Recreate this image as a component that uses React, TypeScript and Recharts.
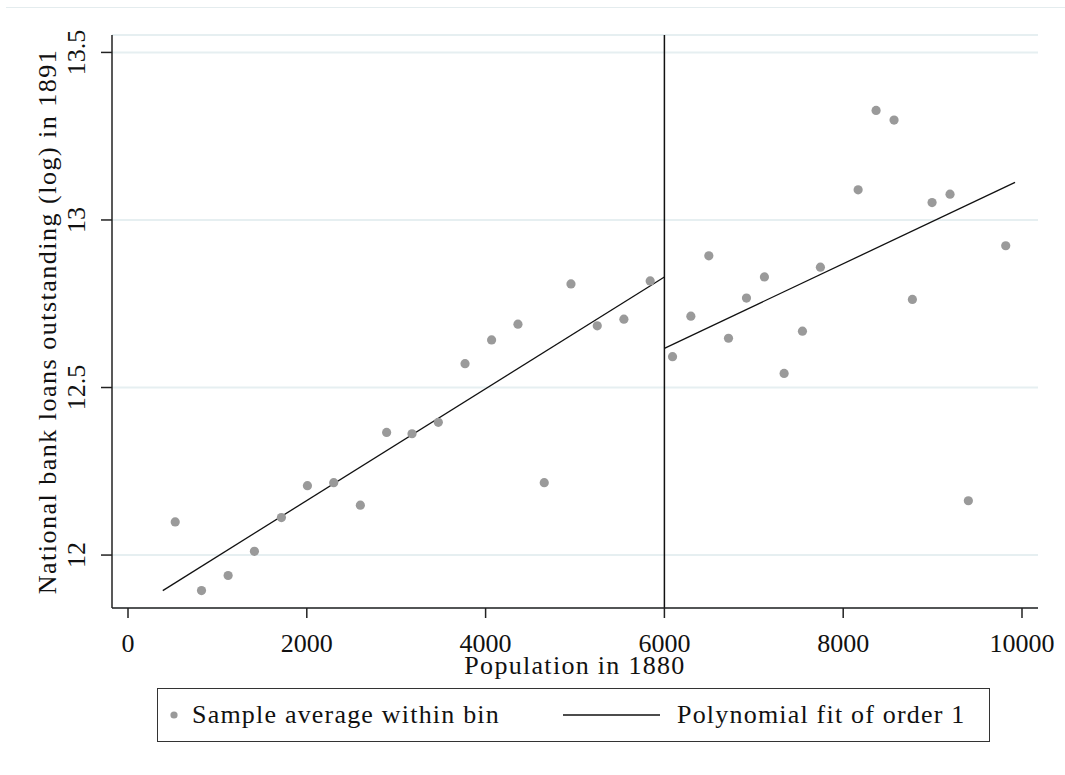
import React from 'react';
import {
  ComposedChart,
  Scatter,
  Line,
  XAxis,
  YAxis,
  CartesianGrid,
  ReferenceLine,
  Legend,
} from 'recharts';

// binned sample averages, left of the 6000 cutoff
const leftBinX = [528, 822, 1120, 1414, 1716, 2007, 2301, 2599, 2893, 3177, 3471, 3770, 4067, 4362, 4656, 4955, 5249, 5547, 5841];
const leftBinY = [12.099, 11.894, 11.939, 12.011, 12.112, 12.207, 12.216, 12.149, 12.366, 12.362, 12.396, 12.571, 12.642, 12.689, 12.216, 12.809, 12.684, 12.704, 12.818];

// binned sample averages, right of the cutoff
const rightBinX = [6091, 6296, 6497, 6717, 6918, 7119, 7339, 7544, 7745, 8167, 8368, 8569, 8774, 8994, 9195, 9400, 9818];
const rightBinY = [12.592, 12.713, 12.893, 12.647, 12.767, 12.83, 12.542, 12.668, 12.859, 13.09, 13.327, 13.298, 12.763, 13.052, 13.077, 12.162, 12.923];

// linear fits (start / end)
const leftFitX = [389, 6000];
const leftFitY = [11.894, 12.83];
const rightFitX = [6000, 9922];
const rightFitY = [12.617, 13.112];

const xTicks = [0, 2000, 4000, 6000, 8000, 10000];
const yTicks = [12, 12.5, 13, 13.5];
const cutoff = 6000;

const FONT = '"Liberation Serif", serif';
const DOT = '#9a9a9a';
const INK = '#111';

const zip = (xs: number[], ys: number[]) => xs.map((x, i) => ({ x, y: ys[i] }));

const YTick = ({ x, y, payload }: any) => (
  <text
    x={x - 24}
    y={y}
    transform={`rotate(-90, ${x - 24}, ${y})`}
    textAnchor="middle"
    dominantBaseline="central"
    fontFamily={FONT}
    fontSize={26}
    fill={INK}
  >
    {payload.value}
  </text>
);

const BinDot = ({ cx, cy }: any) => <circle cx={cx} cy={cy} r={4.6} fill={DOT} />;

const legendText: React.CSSProperties = {
  position: 'absolute',
  top: 0,
  lineHeight: '52px',
  fontFamily: FONT,
  fontSize: 26,
  letterSpacing: 1.2,
  color: INK,
  whiteSpace: 'nowrap',
};

const LegendBox = () => (
  <div
    style={{
      position: 'relative',
      width: 833,
      height: 54,
      boxSizing: 'border-box',
      border: '1.5px solid #333',
    }}
  >
    <svg width={833} height={52} style={{ position: 'absolute', left: -1.5, top: 0 }}>
      <circle cx={17} cy={26} r={3.6} fill={DOT} />
      <line x1={406} x2={503} y1={26} y2={26} stroke={INK} strokeWidth={1.5} />
    </svg>
    <span style={{ ...legendText, left: 34 }}>Sample average within bin</span>
    <span style={{ ...legendText, left: 519 }}>Polynomial fit of order 1</span>
  </div>
);

export default function App() {
  return (
    <div style={{ position: 'relative', width: 1065, height: 775, background: '#fff' }}>
      <style>{'body{margin:0}'}</style>
      <div style={{ position: 'absolute', left: 6, right: 0, top: 7, height: 0, borderTop: '1.5px solid #e4ecee' }} />
      <ComposedChart
        width={1065}
        height={775}
        margin={{ top: 35, right: 27, left: 12, bottom: 43 }}
      >
        <CartesianGrid horizontal vertical={false} stroke="#e6eff1" strokeWidth={2} />
        <XAxis
          type="number"
          dataKey="x"
          domain={[-179, 10179]}
          ticks={xTicks}
          allowDataOverflow
          height={70}
          tickSize={10}
          tickMargin={16}
          stroke="#222"
          strokeWidth={1.5}
          tick={{ fontFamily: FONT, fontSize: 26, fill: INK }}
          label={{
            value: 'Population in 1880',
            position: 'insideBottom',
            offset: 4,
            style: { fontFamily: FONT, fontSize: 26, fill: INK, letterSpacing: 1.3 },
          }}
        />
        <YAxis
          type="number"
          dataKey="y"
          domain={[11.842, 13.552]}
          ticks={yTicks}
          allowDataOverflow
          width={100}
          tickSize={11}
          tickMargin={0}
          stroke="#222"
          strokeWidth={1.5}
          tick={<YTick />}
          label={{
            value: 'National bank loans outstanding (log) in 1891',
            angle: -90,
            position: 'insideLeft',
            offset: 35,
            style: { fontFamily: FONT, fontSize: 26, fill: INK, textAnchor: 'middle', letterSpacing: 1.5 },
          }}
        />
        <ReferenceLine x={cutoff} stroke={INK} strokeWidth={1.5} ifOverflow="extendDomain" />
        <Scatter data={zip(leftBinX, leftBinY)} shape={<BinDot />} isAnimationActive={false} />
        <Scatter data={zip(rightBinX, rightBinY)} shape={<BinDot />} isAnimationActive={false} />
        <Line data={zip(leftFitX, leftFitY)} dataKey="y" type="linear" stroke={INK} strokeWidth={1.3} dot={false} isAnimationActive={false} />
        <Line data={zip(rightFitX, rightFitY)} dataKey="y" type="linear" stroke={INK} strokeWidth={1.3} dot={false} isAnimationActive={false} />
        <Legend
          content={<LegendBox />}
          wrapperStyle={{ position: 'absolute', left: 157, top: 688, width: 833, height: 54 }}
        />
      </ComposedChart>
    </div>
  );
}
